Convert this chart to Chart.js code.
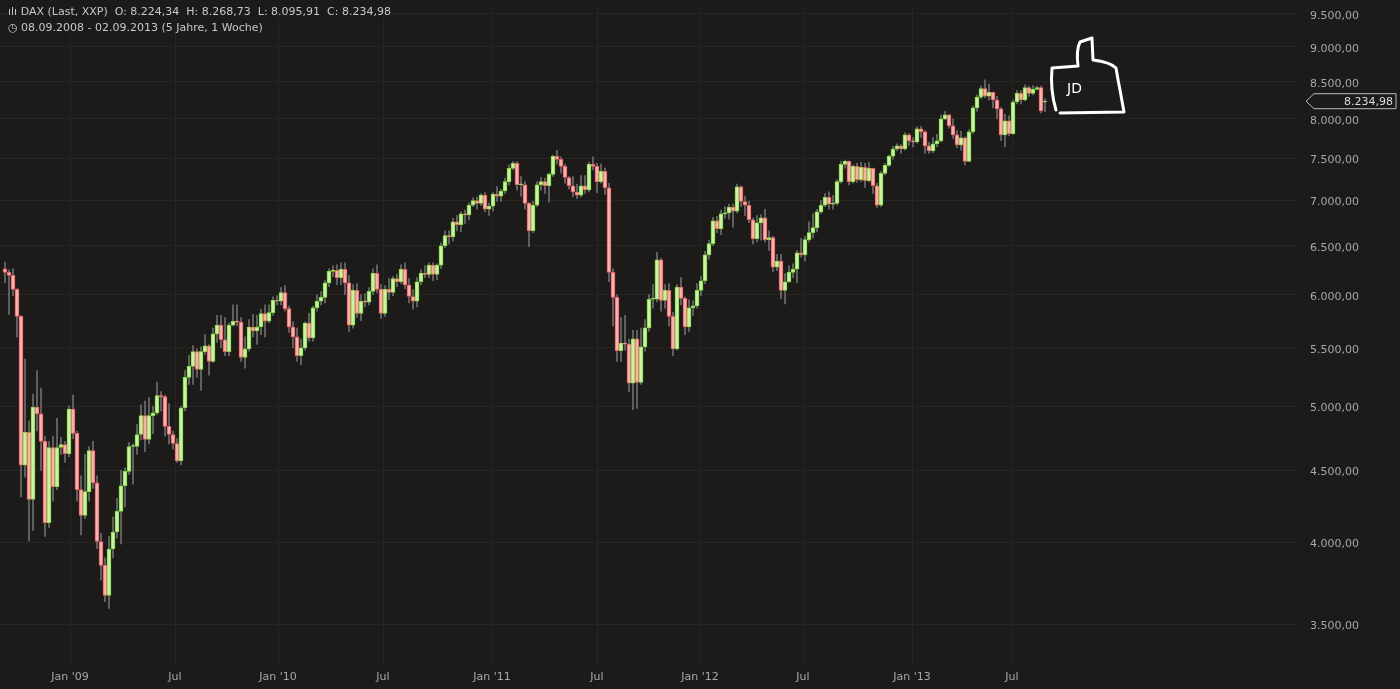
<!DOCTYPE html>
<html><head><meta charset="utf-8">
<script src="https://cdn.jsdelivr.net/npm/chart.js@4/dist/chart.umd.min.js"></script>
<style>
html,body{margin:0;padding:0;background:#1c1b1a;overflow:hidden}
#wrap{position:relative;width:1400px;height:689px}
.hd{position:absolute;left:8px;font:11px "DejaVu Sans",sans-serif;color:#c8c8c8;white-space:pre;background:rgba(28,27,26,0.85)}
</style></head><body>
<div id="wrap"><canvas id="c" width="1400" height="689"></canvas>
<div class="hd" style="top:5px">ılı DAX (Last, XXP)  O: 8.224,34  H: 8.268,73  L: 8.095,91  C: 8.234,98</div>
<div class="hd" style="top:21px">&#9719; 08.09.2008 - 02.09.2013 (5 Jahre, 1 Woche)</div>
</div>
<script>
const firstOpen = 6260, lastOpen = 8224.34;
const closes = [6223,6192,6053,5791,4539,4789,4291,4992,4937,4719,4132,4672,4382,4672,4695,4625,4976,4781,4361,4180,4347,4648,4410,4006,3852,3667,3957,4069,4208,4389,4493,4680,4680,4773,4922,4734,4922,4945,5086,5078,4836,4773,4703,4570,4984,5241,5336,5466,5310,5466,5518,5379,5627,5709,5573,5466,5709,5745,5736,5414,5491,5691,5655,5691,5818,5745,5827,5945,5936,6021,5864,5691,5600,5431,5500,5727,5591,5873,5936,5973,6117,6234,6245,6170,6255,6117,5709,6043,5818,5936,5927,6032,6213,6053,5818,6053,6021,6160,6128,6255,6096,5982,5936,6128,6213,6202,6298,6202,6298,6500,6609,6598,6761,6728,6848,6837,6946,7000,6967,7061,6902,6935,7073,7049,7110,7220,7378,7439,7183,7183,6967,6663,6946,7183,7220,7171,7305,7526,7488,7402,7268,7171,7098,7061,7171,7122,7427,7402,7220,7342,7147,6223,5973,5474,5543,5534,5190,5582,5198,5509,5682,5955,5955,6351,5945,6043,5791,5491,6074,5964,5691,5873,5891,6043,6138,6404,6522,6772,6685,6848,6859,6924,6880,7159,6988,6946,6783,6576,6750,6804,6565,6587,6277,6340,6043,6128,6223,6255,6425,6404,6565,6641,6696,6870,6946,7037,6957,6967,7220,7427,7463,7220,7402,7244,7390,7232,7378,7171,6946,7317,7415,7526,7615,7654,7615,7794,7718,7705,7872,7834,7654,7590,7679,7718,8000,8053,7910,7794,7666,7757,7463,7834,8145,8290,8408,8302,8355,8251,8132,7794,7974,7808,8224,8342,8251,8421,8342,8395,8421,8105,8234.98];
const highs = [6330,6250,6260,6060,5800,5400,4880,5100,5300,5150,4760,4720,4760,4900,4750,4720,5000,5090,4800,4460,4620,4680,4720,4460,4060,3900,4040,4170,4300,4500,4520,4710,4700,4850,5010,5040,5070,5000,5200,5120,5090,5020,4800,4740,5000,5300,5430,5520,5490,5510,5620,5530,5680,5800,5800,5780,5730,5900,5900,5780,5600,5760,5810,5800,5860,5900,5900,5980,5990,6070,6090,5890,5740,5680,5580,5740,5820,5890,6000,6030,6140,6260,6290,6300,6320,6320,6190,6100,6110,6000,6010,6070,6260,6300,6100,6090,6160,6180,6200,6300,6320,6160,6050,6170,6250,6290,6320,6320,6310,6530,6660,6660,6800,6830,6870,6890,6970,7030,7040,7080,7090,6970,7090,7160,7130,7260,7420,7460,7460,7280,7220,6980,6990,7220,7270,7260,7320,7540,7600,7520,7430,7280,7280,7190,7290,7290,7450,7520,7440,7430,7380,7200,6260,6000,5780,5800,5580,5660,5660,5680,5760,6000,6100,6430,6370,6100,6110,5830,6100,6170,5980,5950,5940,6110,6180,6440,6560,6810,6820,6890,6930,6960,6960,7190,7170,7050,6990,6800,6830,6840,6900,6660,6600,6410,6410,6210,6290,6310,6450,6580,6600,6760,6850,6900,7000,7080,7100,7060,7240,7460,7480,7470,7420,7440,7450,7440,7450,7380,7200,7340,7440,7540,7650,7680,7670,7820,7810,7760,7900,7900,7850,7700,7760,7800,8050,8100,8060,8000,7850,7840,7770,7860,8170,8320,8440,8530,8470,8360,8300,8150,8060,8040,8250,8380,8380,8460,8440,8450,8440,8440,8268.73];
const lows = [6120,5810,5990,5600,4310,4450,4010,4080,4800,4500,4040,4100,4280,4360,4620,4560,4600,4740,4280,4050,4160,4280,4370,3960,3760,3630,3590,3900,4030,3990,4240,4470,4400,4620,4730,4640,4700,4780,4930,4960,4760,4700,4660,4560,4540,4960,5180,5180,5240,5130,5440,5260,5370,5550,5500,5430,5430,5700,5700,5380,5320,5470,5600,5530,5620,5600,5730,5800,5900,5900,5840,5640,5500,5380,5350,5480,5560,5560,5840,5900,5920,6080,6180,6100,6100,6000,5650,5680,5780,5750,5880,5900,6000,6020,5770,5790,5950,5990,6080,6110,6060,5920,5860,5880,6100,6170,6170,6140,6150,6260,6480,6520,6550,6660,6650,6740,6780,6930,6900,6940,6870,6830,6880,6990,6990,7080,7180,7360,7120,7050,6900,6490,6640,6930,7120,7080,6980,7280,7430,7320,7200,7130,7040,7020,7040,7080,7100,7360,7090,7200,7070,6130,5700,5380,5380,5480,5120,4970,4980,5180,5470,5650,5870,5930,5840,5870,5700,5430,5480,5900,5620,5650,5800,5870,5990,6110,6360,6500,6640,6620,6800,6790,6700,6860,6930,6830,6750,6520,6540,6560,6540,6450,6230,6240,5960,5910,6120,6170,6120,6380,6340,6540,6580,6650,6850,6930,6900,6900,6950,7200,7380,7180,7200,7210,7220,7150,7220,7080,6920,6930,7300,7400,7490,7590,7560,7600,7660,7640,7690,7760,7560,7560,7570,7640,7700,7990,7880,7750,7630,7600,7420,7460,7810,8100,8270,8280,8250,8150,8000,7720,7640,7780,7800,8200,8200,8240,8300,8320,8390,8080,8095.91];
const yTicks = [3500,4000,4500,5000,5500,6000,6500,7000,7500,8000,8500,9000,9500];
const xTickPos = [16.25,42.5,68.25,94.5,121.75,148,173.75,199.5,226.75,251.75];
const xTickLabels = ["Jan '09","Jul","Jan '10","Jul","Jan '11","Jul","Jan '12","Jul","Jan '13","Jul"];

const opens = closes.map((c,i)=> i===0 ? firstOpen : (i===closes.length-1 ? lastOpen : closes[i-1]));
const up = closes.map((c,i)=> c>=opens[i]);
const fmt = v => v.toLocaleString('de-DE',{minimumFractionDigits:2,maximumFractionDigits:2});

const lastTag = {
  id:'lastTag',
  afterDraw(ch){
    const c=ch.ctx, ys=ch.scales.y;
    c.save();
    c.fillStyle='#a8a8a8';c.font='11px "DejaVu Sans"';c.textBaseline='middle';c.textAlign='left';
    yTicks.forEach(v=>c.fillText(fmt(v), ch.chartArea.right+10, ys.getPixelForValue(v)+2));
    const y=ys.getPixelForValue(closes[closes.length-1]);
    const x0=ch.chartArea.right+6;
    c.fillStyle='#1c1b1a';c.strokeStyle='#bbb';c.lineWidth=1;
    c.beginPath();c.moveTo(x0,y);c.lineTo(x0+8,y-7.5);c.lineTo(x0+90,y-7.5);c.lineTo(x0+90,y+7.5);c.lineTo(x0+8,y+7.5);c.closePath();c.fill();c.stroke();
    c.fillStyle='#ddd';c.textAlign='right';
    c.fillText(fmt(closes[closes.length-1]),x0+87,y+1);
    c.strokeStyle='#fff';c.lineWidth=3;c.lineJoin='round';c.lineCap='round';
    c.beginPath();
    c.moveTo(1056,110);c.quadraticCurveTo(1050,90,1052,68);c.lineTo(1078,66);c.quadraticCurveTo(1076,50,1080,42);c.lineTo(1092,38);c.lineTo(1093,60);
    c.quadraticCurveTo(1110,62,1116,68);c.quadraticCurveTo(1118,80,1120,90);c.lineTo(1124,112);c.lineTo(1060,113);
    c.stroke();
    c.fillStyle='#fff';c.font='14px "DejaVu Sans"';c.textAlign='left';c.fillText('JD',1067,89);
    c.restore();
  }
};

const chart = new Chart(document.getElementById('c'),{
  type:'bar',
  data:{datasets:[
    {label:'b',data:closes.map((c,i)=>({x:i,y:[opens[i],c]})),
     backgroundColor:up.map(u=>u?'#c9f2a6':'#f7b2b0'),borderColor:up.map(u=>u?'#7fe03c':'#ee5c5c'),
     borderWidth:1,borderSkipped:false,barThickness:4,grouped:false,order:1,minBarLength:1},
    {label:'w',data:closes.map((c,i)=>({x:i,y:[lows[i],highs[i]]})),
     backgroundColor:'#6e6e6e',borderWidth:0,barThickness:1,grouped:false,order:2}
  ]},
  plugins:[lastTag],
  options:{
    responsive:false,animation:false,
    layout:{padding:{top:8,bottom:0,left:0,right:0}},
    plugins:{legend:{display:false},tooltip:{enabled:false}},
    scales:{
      x:{type:'linear',min:-1.25,max:323.75,offset:false,
         grid:{color:'#262524',drawTicks:false,offset:false},border:{display:false},
         afterBuildTicks:s=>{s.ticks=xTickPos.map(v=>({value:v}));},
         afterFit:s=>{s.height=25;},
         ticks:{color:'#a8a8a8',font:{size:11,family:'DejaVu Sans'},padding:7,maxRotation:0,autoSkip:false,
           callback:(v)=>{const k=xTickPos.indexOf(v);return k>=0?xTickLabels[k]:'';}}},
      y:{type:'logarithmic',position:'right',min:3278,max:9530,
         grid:{color:'#262524',drawTicks:false},border:{display:false},
         afterBuildTicks:s=>{s.ticks=yTicks.map(v=>({value:v}));},
         afterFit:s=>{s.width=100;},
         ticks:{display:false}}
    }
  }
});
const a = chart.chartArea;
chart.options.scales.y.min = 3500*Math.exp(-(a.bottom-624)/611);
chart.options.scales.y.max = 3500*Math.exp((624-a.top)/611);
chart.update();
</script></body></html>
